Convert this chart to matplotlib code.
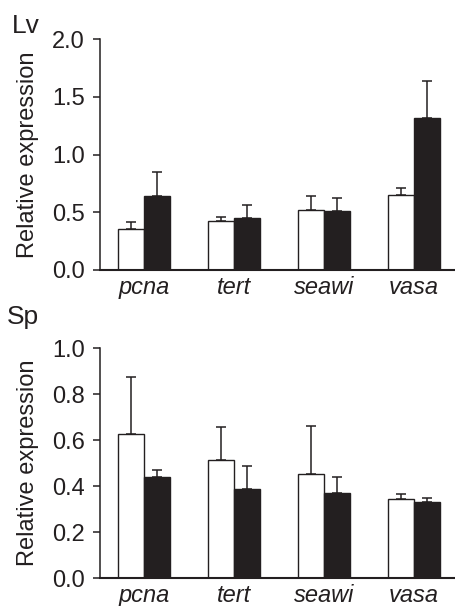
import numpy as np
import matplotlib.pyplot as plt

plt.rcParams['font.family'] = ['Liberation Sans', 'DejaVu Sans']

genes = ['pcna', 'tert', 'seawi', 'vasa']

# Lv panel
lv_white = [0.355, 0.42, 0.517, 0.647]
lv_white_err = [0.063, 0.039, 0.121, 0.060]
lv_black = [0.643, 0.453, 0.514, 1.313]
lv_black_err = [0.205, 0.107, 0.109, 0.323]

# Sp panel
sp_white = [0.627, 0.513, 0.451, 0.345]
sp_white_err = [0.249, 0.143, 0.208, 0.021]
sp_black = [0.438, 0.387, 0.368, 0.332]
sp_black_err = [0.033, 0.101, 0.071, 0.018]

fig = plt.figure(figsize=(4.56, 6.06), dpi=100)
ax1 = fig.add_axes([0.2193, 0.5545, 0.7807, 0.381])
ax2 = fig.add_axes([0.2193, 0.0462, 0.7807, 0.3795])

x = np.arange(len(genes))
w = 0.29


def draw(ax, white, werr, black, berr, ymax, yticks):
    errkw = dict(ecolor='#231f20', elinewidth=1.1, capsize=3.3, capthick=1.1)
    ax.bar(x - w / 2, white, w, color='white', edgecolor='#231f20', linewidth=1.0,
           yerr=[np.zeros(len(white)), werr], error_kw=errkw, zorder=2)
    ax.bar(x + w / 2, black, w, color='#231f20', edgecolor='#231f20', linewidth=1.0,
           yerr=[np.zeros(len(black)), berr], error_kw=errkw, zorder=2)
    ax.set_xlim(-0.489, 3.467)
    ax.set_ylim(0, ymax)
    ax.set_yticks(yticks)
    ax.set_yticklabels(['%.1f' % t for t in yticks])
    ax.set_xticks(x)
    ax.set_xticklabels(genes, style='italic')
    for s in ['top', 'right']:
        ax.spines[s].set_visible(False)
    ax.spines['left'].set_linewidth(1.1)
    ax.spines['bottom'].set_linewidth(1.5)
    ax.spines['left'].set_color('#231f20')
    ax.spines['bottom'].set_color('#231f20')
    ax.tick_params(axis='y', length=5, width=1.1, pad=6, labelsize=17, colors='#231f20')
    ax.tick_params(axis='x', length=0, pad=4, labelsize=17, colors='#231f20')
    ax.set_ylabel('Relative expression', fontsize=17, color='#231f20', labelpad=9)
    ax.set_facecolor('none')


draw(ax1, lv_white, lv_white_err, lv_black, lv_black_err, 2.0, [0.0, 0.5, 1.0, 1.5, 2.0])
draw(ax2, sp_white, sp_white_err, sp_black, sp_black_err, 1.0, [0.0, 0.2, 0.4, 0.6, 0.8, 1.0])

fig.text(0.027, 0.977, 'Lv', fontsize=19, va='top', ha='left', color='#231f20')
fig.text(0.014, 0.496, 'Sp', fontsize=19, va='top', ha='left', color='#231f20')

fig.savefig('out.png', dpi=100)
